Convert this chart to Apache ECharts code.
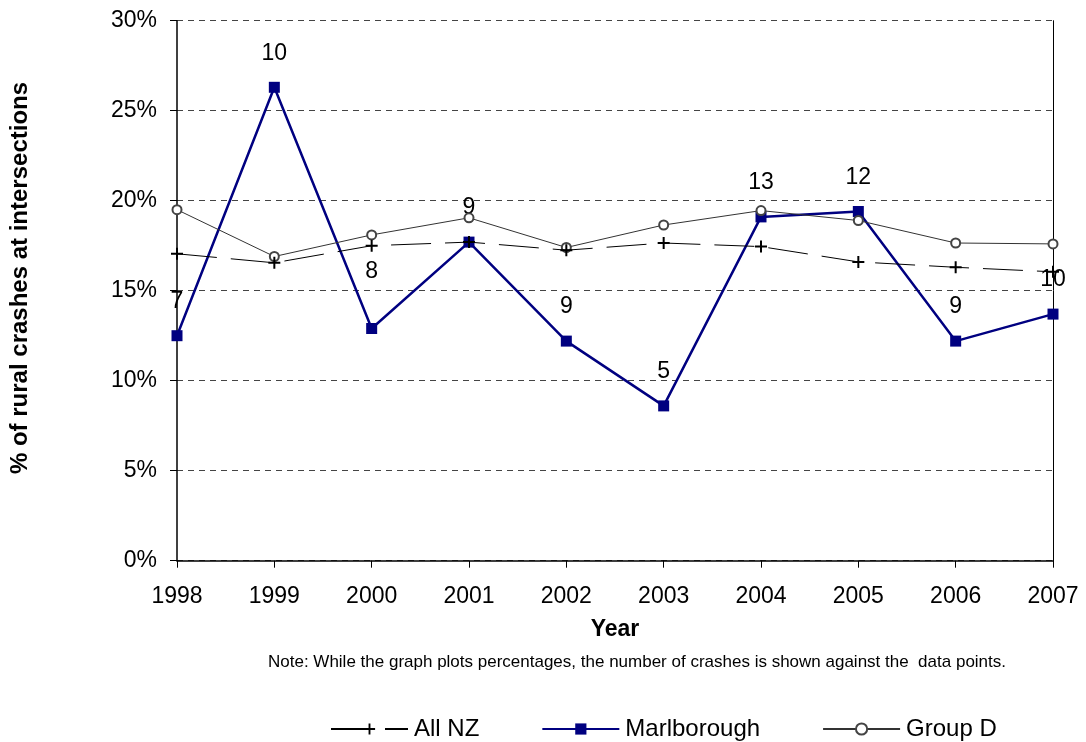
<!DOCTYPE html>
<html>
<head>
<meta charset="utf-8">
<script src="https://cdn.jsdelivr.net/npm/echarts@6/dist/echarts.min.js"></script>
<style>
html,body{margin:0;padding:0;background:#fff;}
#chart{width:1086px;height:742px;}
</style>
</head>
<body>
<div id="chart"></div>
<script>
const years = ['1998','1999','2000','2001','2002','2003','2004','2005','2006','2007'];
const allNZ = [17.05, 16.55, 17.5, 17.7, 17.25, 17.65, 17.45, 16.6, 16.3, 16.05];
const marlborough = [12.5, 26.3, 12.9, 17.7, 12.2, 8.6, 19.1, 19.4, 12.2, 13.7];
const groupD = [19.5, 16.9, 18.1, 19.05, 17.4, 18.65, 19.45, 18.9, 17.65, 17.6];
const crashCounts = [7, 10, 8, 9, 9, 5, 13, 12, 9, 10];
const yTicks = [0, 5, 10, 15, 20, 25, 30];

const FONT = 'Liberation Sans, Arial, sans-serif';
const chart = echarts.init(document.getElementById('chart'), null, {renderer: 'canvas'});

const plusPath = 'path://M5,0H7V5H12V7H7V12H5V7H0V5H5Z';

const marlData = marlborough.map((v, i) => {
  const d = {value: v};
  if (i === 2) d.label = {offset: [0, -23]};
  return d;
});

const option = {
  backgroundColor: '#fff',
  animation: false,
  textStyle: {fontFamily: FONT},
  grid: {left: 177, right: 33, top: 20.7, bottom: 181.3, containLabel: false},
  xAxis: {
    type: 'category',
    data: years,
    boundaryGap: false,
    name: 'Year',
    nameLocation: 'middle',
    nameGap: 57,
    nameTextStyle: {fontFamily: FONT, fontSize: 23, fontWeight: 'bold', color: '#000'},
    axisLine: {show: true, lineStyle: {color: '#000', width: 1.5}},
    axisTick: {show: true, alignWithLabel: true, length: 7, lineStyle: {color: '#000', width: 1}},
    axisLabel: {fontFamily: FONT, fontSize: 23, color: '#000', margin: 24},
    splitLine: {show: false}
  },
  yAxis: [{
    type: 'value',
    min: yTicks[0],
    max: yTicks[yTicks.length - 1],
    interval: 5,
    axisLine: {show: true, lineStyle: {color: '#000', width: 1.5}},
    axisTick: {show: true, length: 7, lineStyle: {color: '#000', width: 1}},
    axisLabel: {fontFamily: FONT, fontSize: 23, color: '#000', margin: 20, formatter: v => v + '%'},
    splitLine: {show: true, lineStyle: {color: '#444', width: 1, type: [6, 5]}}
  }, {
    type: 'value',
    position: 'right',
    min: yTicks[0],
    max: yTicks[yTicks.length - 1],
    interval: 5,
    axisLine: {show: true, lineStyle: {color: '#000', width: 1}},
    axisTick: {show: false},
    axisLabel: {show: false},
    splitLine: {show: false}
  }],
  legend: {
    data: ['All NZ', 'Marlborough', 'Group D'],
    left: 325,
    bottom: -4,
    itemWidth: 77,
    itemHeight: 14,
    itemGap: 62,
    textStyle: {fontFamily: FONT, fontSize: 24, color: '#000', padding: [0, 0, 0, 1]}
  },
  graphic: [{
    type: 'text',
    x: 20, y: 278,
    rotation: Math.PI / 2,
    style: {
      text: '% of rural crashes at intersections',
      font: 'bold 24px ' + FONT,
      fill: '#000',
      align: 'center',
      verticalAlign: 'middle'
    }
  }, {
    type: 'text',
    x: 637, y: 662,
    style: {
      text: 'Note: While the graph plots percentages, the number of crashes is shown against the  data points.',
      font: '17px ' + FONT,
      fill: '#000',
      align: 'center',
      verticalAlign: 'middle'
    }
  }],
  series: [{
    name: 'Marlborough',
    type: 'line',
    data: marlData,
    symbol: 'rect',
    symbolSize: 11,
    itemStyle: {color: '#000080'},
    lineStyle: {color: '#000080', width: 2.5},
    label: {
      show: true,
      position: 'top',
      distance: 17,
      fontFamily: FONT,
      fontSize: 23,
      color: '#000',
      formatter: p => String(crashCounts[p.dataIndex])
    },
    z: 2
  }, {
    name: 'Group D',
    type: 'line',
    data: groupD,
    symbol: 'emptyCircle',
    symbolSize: 9,
    itemStyle: {color: '#444', borderColor: '#444', borderWidth: 1.5},
    lineStyle: {color: '#333', width: 1},
    z: 3
  }, {
    name: 'All NZ',
    type: 'line',
    data: allNZ,
    symbol: plusPath,
    symbolSize: 12,
    itemStyle: {color: '#000'},
    lineStyle: {color: '#000', width: 1, type: [40, 14]},
    z: 4
  }]
};
chart.setOption(option);
</script>
</body>
</html>
